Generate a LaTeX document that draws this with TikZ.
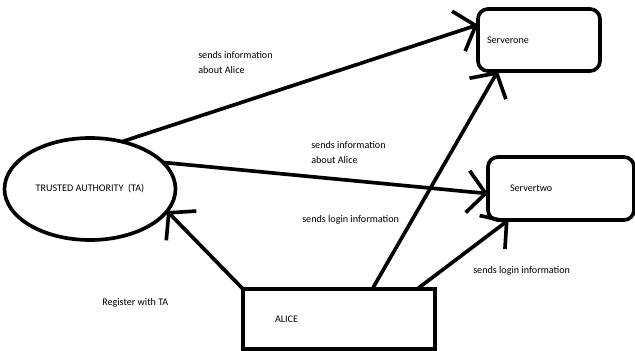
\documentclass[tikz,border=0pt]{standalone}
\usepackage{fontspec}
\setmainfont{Carlito}
\usepackage{tikz}
\usepackage{tkz-graph}
\usetikzlibrary{arrows.meta,shapes.geometric}

\begin{document}
\begin{tikzpicture}[font=\fontsize{7.2}{10.7}\selectfont]
    \useasboundingbox (0,0) rectangle (15.875,8.775);
        \GraphInit[vstyle=Normal]
        \tikzset{VertexStyle/.style={draw, ellipse, line width=2.6pt, inner sep=0pt,
            minimum width=4.275cm, minimum height=2.55cm}}
        \Vertex[x=2.25, y=4.05, L={TRUSTED AUTHORITY\ \ (TA)}]{TA}
        \tikzset{VertexStyle/.style={draw, rectangle, rounded corners=0.25cm, line width=2.6pt,
            inner ysep=0pt, minimum height=1.55cm, align=left,
            inner xsep=0.225cm, text width=2.6cm}}
        \Vertex[x=13.475, y=7.775, L=Serverone]{One}
        \tikzset{VertexStyle/.style={draw, rectangle, rounded corners=0.25cm, line width=2.6pt,
            inner ysep=0pt, minimum height=1.575cm, align=left,
            inner xsep=0.55cm, text width=2.55cm}}
        \Vertex[x=14.025, y=4.0625, L=Servertwo]{Two}
        \tikzset{VertexStyle/.style={draw, rectangle, line width=2.6pt,
            inner ysep=0pt, minimum height=1.5cm, align=left,
            inner xsep=0.8cm, text width=3.2cm}}
        \Vertex[x=8.475, y=0.8, L=ALICE]{Alice}
        \node[anchor=west, align=left, inner sep=0pt] (infoOne) at (4.95,7.2125) {sends information\\about Alice};
        \node[anchor=west, align=left, inner sep=0pt] (infoTwo) at (7.775,4.95) {sends information\\about Alice};
        \node[anchor=west, inner sep=0pt] (loginOne) at (7.55,3.275) {sends login information};
        \node[anchor=west, inner sep=0pt] (loginTwo) at (11.825,2.0) {sends login information};
        \node[anchor=west, inner sep=0pt] (reg) at (2.55,1.2) {Register with TA};
        \tikzset{EdgeStyle/.style={draw, line width=2.6pt, -{Straight Barb[length=0.45cm, width=1.05cm]}}}
        \Edge(TA.56)(One.166)
        \Edge(TA.20)(Two.184)
        \Edge(Alice.north west)(TA.-16)
        \Edge(Alice.42)(One.217)
        \Edge(Alice.21)(Two.211)
    \end{tikzpicture}
\end{document}
